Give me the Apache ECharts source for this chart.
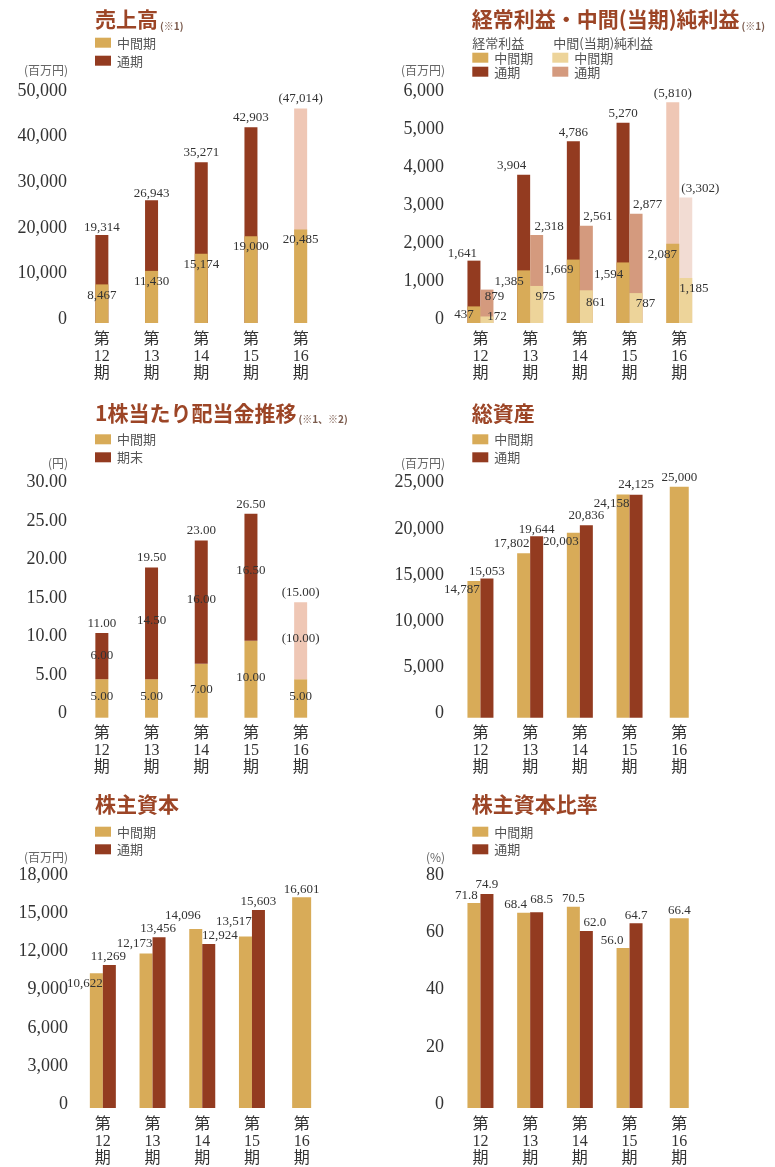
<!DOCTYPE html>
<html>
<head>
<meta charset="utf-8">
<script src="https://cdn.jsdelivr.net/npm/echarts@6/dist/echarts.min.js"></script>
<style>
  html, body { margin: 0; padding: 0; background: #fff; }
  #chart { width: 775px; height: 1167px; }
</style>
</head>
<body>
<div id="chart"></div>
<script>
// ---- data ---------------------------------------------------------------
const periods = ['第12期', '第13期', '第14期', '第15期', '第16期'];
// 第16期 full-year figures are forecasts (shown in parentheses, pale colours)
const forecast = [false, false, false, false, true];

// 売上高 (百万円)
const salesInterim = [8467, 11430, 15174, 19000, 20485];
const salesFullYear = [19314, 26943, 35271, 42903, 47014];
const salesTicks = [0, 10000, 20000, 30000, 40000, 50000];

// 経常利益 / 中間(当期)純利益 (百万円)
const ordinaryInterim = [437, 1385, 1669, 1594, 2087];
const ordinaryFullYear = [1641, 3904, 4786, 5270, 5810];
const netInterim = [172, 975, 861, 787, 1185];
const netFullYear = [879, 2318, 2561, 2877, 3302];
const profitTicks = [0, 1000, 2000, 3000, 4000, 5000, 6000];

// 1株当たり配当金 (円)
const dividendInterim = [5.00, 5.00, 7.00, 10.00, 5.00];
const dividendYearEnd = [6.00, 14.50, 16.00, 16.50, 10.00];
const dividendAnnual = [11.00, 19.50, 23.00, 26.50, 15.00];
const dividendTicks = [0, 5, 10, 15, 20, 25, 30];

// 総資産 (百万円)
const assetsInterim = [14787, 17802, 20003, 24158, 25000];
const assetsFullYear = [15053, 19644, 20836, 24125, null];
const assetsTicks = [0, 5000, 10000, 15000, 20000, 25000];

// 株主資本 (百万円)
const equityInterim = [10622, 12173, 14096, 13517, 16601];
const equityFullYear = [11269, 13456, 12924, 15603, null];
const equityTicks = [0, 3000, 6000, 9000, 12000, 15000, 18000];

// 株主資本比率 (%)
const ratioInterim = [71.8, 68.4, 70.5, 56.0, 66.4];
const ratioFullYear = [74.9, 68.5, 62.0, 64.7, null];
const ratioTicks = [0, 20, 40, 60, 80];

// ---- styling ------------------------------------------------------------
const GOLD = '#D8AB58', BROWN = '#933B20', PINK = '#EFC7B5';
const PALE_GOLD = '#EDD49A', SALMON = '#D49A7E', PALE_PINK = '#F2DCD3';
const TITLE = '#9C4526';
const SERIF = "'Liberation Serif', 'Noto Sans CJK JP', serif";
const SANS = "'Noto Sans CJK JP', sans-serif";

const comma = v => String(v).replace(/\B(?=(\d{3})+(?!\d))/g, ',');
const fixed2 = v => v.toFixed(2);
const fixed1 = v => v.toFixed(1);

// Grid rectangles, left column / right column, three rows
const COL_L = 77, COL_R = 455.6, COL_W = 248.5;
const grids = [
  { left: COL_L, top: 95, width: COL_W, height: 228 },
  { left: COL_R, top: 95, width: COL_W, height: 228 },
  { left: COL_L, top: 486.7, width: COL_W, height: 231 },
  { left: COL_R, top: 486.7, width: COL_W, height: 231 },
  { left: COL_L + 1, top: 879.5, width: COL_W, height: 230.5 },
  { left: COL_R, top: 879.5, width: COL_W, height: 230.5 }
];

function catAxis(gridIndex, show) {
  return {
    type: 'category', gridIndex, data: periods, show,
    axisLine: { show: false }, axisTick: { show: false },
    axisLabel: {
      interval: 0, margin: 8, color: '#333', fontSize: 16, lineHeight: 17,
      fontFamily: SERIF,
      formatter: v => v.replace(/^(第)(\d+)(期)$/, '$1\n$2\n$3')
    }
  };
}

function valAxis(gridIndex, ticks, fmt, unit, nameGap, margin, namePad) {
  return {
    type: 'value', gridIndex,
    min: ticks[0], max: ticks[ticks.length - 1], interval: ticks[1] - ticks[0],
    splitLine: { show: false }, axisLine: { show: false }, axisTick: { show: false },
    axisLabel: {
      margin, color: '#333', fontSize: 18, fontFamily: SERIF,
      // tick numbers sit slightly above their tick position
      verticalAlign: 'bottom', lineHeight: 8,
      formatter: v => v === 0 ? '0' : fmt(v)
    },
    name: unit, nameLocation: 'end', nameGap,
    nameTextStyle: {
      fontFamily: SANS, fontSize: 12, color: '#666',
      align: 'right', verticalAlign: 'middle', padding: [0, namePad, 0, 0]
    }
  };
}

// Bar label: text top sits at bar top, shifted by [dx, centre offset]
function barLabel(fmt, paren) {
  return {
    show: true, position: 'insideTop', distance: 0,
    fontFamily: SERIF, fontSize: 13, lineHeight: 13, color: '#333',
    formatter: p => (paren && forecast[p.dataIndex]) ? '(' + fmt(p.value) + ')' : fmt(p.value)
  };
}
function items(values, dx, dc, forecastColor) {
  return values.map((v, i) => {
    if (v == null) return '-';
    const it = { value: v, label: { offset: [dx ? dx[i] : 0, (dc ? dc[i] : 0) - 6.5] } };
    if (forecastColor && forecast[i]) it.itemStyle = { color: forecastColor };
    return it;
  });
}
// For grouped panels: interim bars paired with a full-year bar, and a lone interim bar
const paired = (interim, full) => interim.map((v, i) => full[i] == null ? null : v);
const lone = (interim, full) => interim.map((v, i) => full[i] == null ? v : null);

function bar(name, xAxisIndex, yAxisIndex, data, color, label, extra) {
  return Object.assign({
    type: 'bar', name, xAxisIndex, yAxisIndex, data,
    barWidth: 13, barGap: 0, itemStyle: { color }, label
  }, extra || {});
}

// ---- axes -----------------------------------------------------------------
const xAxis = [
  catAxis(0, true),            // 0 売上高
  catAxis(1, true),            // 1 経常利益・純利益 (full-year)
  catAxis(1, false),           // 2 経常利益・純利益 (interim overlay)
  catAxis(2, true),            // 3 配当金
  catAxis(3, true),            // 4 総資産
  catAxis(3, false),           // 5 総資産 lone bar
  catAxis(4, true),            // 6 株主資本
  catAxis(4, false),           // 7 株主資本 lone bar
  catAxis(5, true),            // 8 株主資本比率
  catAxis(5, false)            // 9 株主資本比率 lone bar
];
const yAxis = [
  valAxis(0, salesTicks, comma, '(百万円)', 24.3, 10, 9),
  valAxis(1, profitTicks, comma, '(百万円)', 24.3, 11.5, 10.5),
  valAxis(2, dividendTicks, fixed2, '(円)', 23.7, 10, 9),
  valAxis(3, assetsTicks, comma, '(百万円)', 23.7, 11.5, 10.5),
  valAxis(4, equityTicks, comma, '(百万円)', 22.5, 10, 10),
  valAxis(5, ratioTicks, v => String(v), '(%)', 22.5, 11.5, 10.5)
];

// ---- series ---------------------------------------------------------------
const series = [
  // 売上高: full-year bar behind, interim bar in front
  bar('通期', 0, 0, items(salesFullYear, null, [-7, -7, -10, -10, -10.5], PINK), BROWN,
      barLabel(comma, true), { barGap: '-100%' }),
  bar('中間期', 0, 0, items(salesInterim, null, [11, 10.5, 11, 10, 10]), GOLD,
      barLabel(comma), { barGap: '-100%' }),

  // 経常利益 (left) and 中間(当期)純利益 (right)
  bar('通期', 1, 1, items(ordinaryFullYear, [-11.5, -12, 0, 0, 0], [-7.5, -9, -9, -9, -8.5], PINK),
      BROWN, barLabel(comma, true)),
  bar('通期', 1, 1, items(netFullYear, [7.5, 12.5, 11.5, 11.5, 14.5], [7, -8, -9, -9, -9], PALE_PINK),
      SALMON, barLabel(comma, true)),
  bar('中間期', 2, 1, items(ordinaryInterim, [-10, -14.5, -14.5, -14.5, -10.5], [8, 11.5, 10, 12, 11]),
      GOLD, barLabel(comma)),
  bar('中間期', 2, 1, items(netInterim, [10, 8.5, 9.5, 9.5, 8], [0.5, 11, 12, 10, 11]),
      PALE_GOLD, barLabel(comma)),

  // 配当金: interim + year-end stacked, annual total above
  bar('中間期', 3, 2, dividendInterim.map(v => ({ value: v, label: { offset: [0, -1.5] } })), GOLD,
      Object.assign(barLabel(fixed2), { position: 'inside' }), { stack: 'dividend' }),
  bar('期末', 3, 2, dividendYearEnd.map((v, i) => {
        const it = { value: v, label: { offset: [0, [-1, -3, -3, -7, -2.5][i]] } };
        if (forecast[i]) it.itemStyle = { color: PINK };
        return it;
      }), BROWN,
      Object.assign(barLabel(fixed2, true), { position: 'inside' }), { stack: 'dividend' }),
  {
    type: 'scatter', name: '年間', xAxisIndex: 3, yAxisIndex: 2, data: dividendAnnual,
    symbolSize: 0.1, itemStyle: { color: 'transparent', opacity: 1 }, z: 5,
    label: {
      show: true, position: 'top', distance: 3,
      fontFamily: SERIF, fontSize: 13, lineHeight: 13, color: '#333', opacity: 1,
      formatter: p => forecast[p.dataIndex] ? '(' + fixed2(p.value) + ')' : fixed2(p.value)
    }
  },

  // 総資産
  bar('中間期', 4, 3, items(paired(assetsInterim, assetsFullYear), [-12, -12, -12.5, -11.5, 0], [9, -10, 9, 9, -9]),
      GOLD, barLabel(comma)),
  bar('通期', 4, 3, items(assetsFullYear, null, [-7, -6.5, -10, -10, 0]), BROWN, barLabel(comma)),
  bar('中間期', 5, 3, items(lone(assetsInterim, assetsFullYear), null, [0, 0, 0, 0, -9]),
      GOLD, barLabel(comma), { barWidth: 19 }),

  // 株主資本
  bar('中間期', 6, 4, items(paired(equityInterim, equityFullYear), [-11.5, -11.5, -13, -11.5, 0], [10, -10, -13.5, -14.5, -8]),
      GOLD, barLabel(comma)),
  bar('通期', 6, 4, items(equityFullYear, [-1, -1, 11, 0, 0], [-8, -9, -8, -8, 0]), BROWN, barLabel(comma)),
  bar('中間期', 7, 4, items(lone(equityInterim, equityFullYear), null, [0, 0, 0, 0, -8]),
      GOLD, barLabel(comma), { barWidth: 19 }),

  // 株主資本比率
  bar('中間期', 8, 5, items(paired(ratioInterim, ratioFullYear), [-7.5, -8, 0, -11, 0], [-7, -8, -8, -7, -8]),
      GOLD, barLabel(fixed1)),
  bar('通期', 8, 5, items(ratioFullYear, [0, 5, 8.5, 0, 0], [-9, -13, -8, -8, 0]), BROWN, barLabel(fixed1)),
  bar('中間期', 9, 5, items(lone(ratioInterim, ratioFullYear), null, [0, 0, 0, 0, -8]),
      GOLD, barLabel(fixed1), { barWidth: 19 })
];

// ---- titles and legends ---------------------------------------------------------
const titleRich = {
  a: { fontFamily: SANS, fontSize: 21, fontWeight: 'bold', color: TITLE, lineHeight: 24 },
  b: { fontFamily: SANS, fontSize: 10, color: '#7a5a4c', lineHeight: 17, verticalAlign: 'bottom', padding: [0, 0, 0, 2] }
};
function heading(left, top, text) {
  return { left, top, padding: 0, text, textStyle: { rich: titleRich } };
}
function subHeading(left, top, text) {
  return { left, top, padding: 0, text,
    textStyle: { fontFamily: SANS, fontSize: 13, lineHeight: 13, fontWeight: 'normal', color: '#555' } };
}
const title = [
  heading(95, 7, '{a|売上高}{b|(※1)}'),
  heading(471.7, 7, '{a|経常利益・中間(当期)純利益}{b|(※1)}'),
  heading(95, 400.7, '{a|1株当たり配当金推移}{b|(※1、※2)}'),
  heading(471.7, 400.7, '{a|総資産}'),
  heading(95, 792, '{a|株主資本}'),
  heading(471.7, 792, '{a|株主資本比率}'),
  subHeading(472.3, 36.2, '経常利益'),
  subHeading(553.3, 36.2, '中間(当期)純利益')
];

function legend(left, top, gap, entries) {
  return {
    left, top, padding: 0, orient: 'vertical', itemGap: gap,
    icon: 'rect', itemWidth: 16, itemHeight: 10, selectedMode: false,
    textStyle: { fontFamily: SANS, fontSize: 13, lineHeight: 13, color: '#555', padding: [0, 0, 0, 1] },
    data: entries.map(([name, color]) => ({ name, itemStyle: { color } }))
  };
}
const legends = [
  legend(95, 36.2, 5, [['中間期', GOLD], ['通期', BROWN]]),
  legend(472.3, 51.2, 1, [['中間期', GOLD], ['通期', BROWN]]),
  legend(552.3, 51.2, 1, [['中間期', PALE_GOLD], ['通期', SALMON]]),
  legend(95, 432.8, 5, [['中間期', GOLD], ['期末', BROWN]]),
  legend(472.3, 432.8, 5, [['中間期', GOLD], ['通期', BROWN]]),
  legend(95, 825.2, 4.6, [['中間期', GOLD], ['通期', BROWN]]),
  legend(472.3, 825.2, 4.6, [['中間期', GOLD], ['通期', BROWN]])
];

const chart = echarts.init(document.getElementById('chart'), null, { renderer: 'canvas' });
chart.setOption({
  animation: false,
  backgroundColor: '#fff',
  title,
  legend: legends,
  grid: grids,
  xAxis,
  yAxis,
  series
});
</script>
</body>
</html>
